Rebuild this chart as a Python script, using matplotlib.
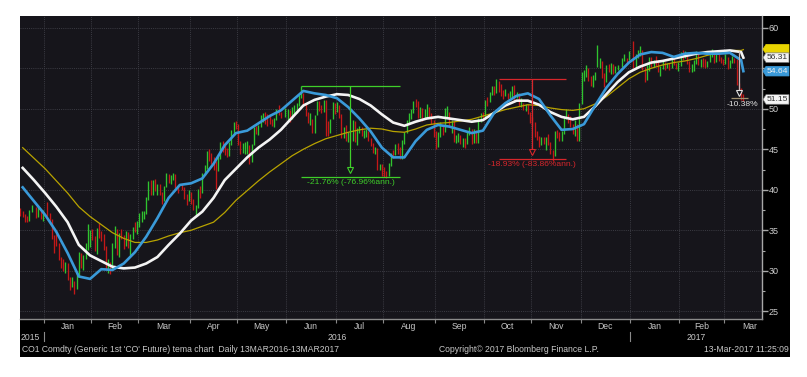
import numpy as np
import pandas as pd
import matplotlib
matplotlib.use("Agg")
import matplotlib.pyplot as plt
from matplotlib.patches import Rectangle, Polygon
from matplotlib.transforms import blended_transform_factory

# ---------------- data ----------------
holidays = ["2015-12-25", "2016-01-01", "2016-03-25", "2016-05-30", "2016-12-26", "2017-01-02"]

close = [
    37.06, 36.88, 36.35, 36.11, 37.36, 37.89, 36.62, 37.79, 36.46, 37.28,
    37.22, 36.42, 34.23, 33.75, 33.55, 31.55, 30.86, 30.31, 31.03, 28.94, 28.55, 28.76, 27.88, 29.25, 32.18, 30.50, 31.80, 33.10, 33.89, 34.74,
    34.24, 32.72, 35.04, 34.46, 34.06, 32.88, 30.32, 30.84, 30.06, 33.36, 33.39, 32.18, 34.50, 34.28, 33.01, 34.69, 33.27, 34.41, 35.29, 35.10, 35.97,
    36.81, 36.93, 37.07, 38.72, 40.84, 39.65, 41.07, 40.05, 40.39, 39.53, 38.74, 40.33, 41.54, 41.20, 41.54, 41.79, 40.47, 40.44, 40.27, 39.14, 38.32, 39.60,
    38.67, 37.69, 37.87, 39.84, 39.43, 41.94, 42.83, 44.69, 44.18, 43.84, 43.10, 42.91, 44.03, 45.61, 45.22, 45.11, 44.48, 45.74, 47.18, 48.14, 48.13,
    45.83, 44.97, 45.01, 45.01, 45.37, 43.63, 45.52, 47.59, 47.08, 47.83, 48.97, 49.28, 48.93, 48.81, 48.72, 48.35, 48.61, 49.74, 49.59, 49.32, 49.69,
    49.72, 49.17, 49.64, 49.69, 50.36, 51.44, 51.95, 50.54, 49.28, 48.49, 48.97, 47.19, 49.17, 50.65, 49.96, 49.88, 50.91, 48.41, 47.16, 48.58, 50.61, 49.68,
    50.35, 49.10, 46.60, 47.43, 46.40, 46.76, 46.25, 48.47, 46.26, 47.37, 47.61, 46.96, 47.08, 47.17, 46.20, 45.69, 44.72, 44.87, 42.70, 42.70, 42.46,
    42.14, 41.80, 43.10, 44.29, 44.27, 45.39, 44.98, 44.05, 46.04, 46.97, 48.35, 49.23, 49.85, 50.89, 50.88, 49.16, 49.96, 49.05, 49.67, 49.92, 49.26, 48.37, 47.04,
    45.45, 46.83, 47.63, 47.26, 49.98, 49.99, 48.01, 48.32, 46.10, 46.59, 46.59, 45.77, 45.95, 45.88, 46.83, 47.65, 45.89, 47.35, 45.97, 48.69, 49.24, 49.06,
    50.89, 50.87, 51.86, 52.51, 51.93, 53.14, 52.41, 52.03, 51.81, 51.95, 51.52, 51.68, 52.67, 51.38, 51.78, 50.52, 50.79, 49.98, 50.47, 49.71, 48.30,
    48.14, 46.67, 46.35, 45.58, 46.15, 46.04, 46.36, 45.84, 44.75, 44.43, 46.95, 46.63, 46.49, 46.86, 48.90, 49.12, 48.95, 48.00, 47.24, 48.24, 46.38, 50.47,
    53.94, 54.46, 54.94, 53.93, 53.00, 53.89, 54.33, 55.69, 55.72, 54.08, 53.02, 55.21, 54.92, 55.35, 54.46, 55.05, 55.16, 56.09, 56.22, 56.14, 56.82,
    55.47, 56.46, 56.89, 57.10, 54.94, 53.64, 55.10, 56.01, 55.45, 55.86, 55.47, 54.92, 55.16, 55.49, 55.23, 55.44, 55.08, 56.24, 55.52, 55.23, 55.70,
    56.80, 56.56, 56.81, 55.72, 55.05, 55.12, 55.63, 56.70, 55.59, 55.97, 55.75, 55.65, 55.81, 56.66, 56.66, 55.84, 56.58, 55.99, 55.93, 55.59,
    56.36, 55.08, 55.90, 56.01, 55.92, 53.11, 52.19, 51.37, 51.15,
]
high = [
    37.70, 37.35, 36.95, 36.75, 37.50, 38.15, 37.85, 38.00, 37.60, 37.50,
    38.50, 37.10, 36.40, 34.40, 34.55, 33.45, 31.70, 31.50, 31.10, 30.92, 29.20, 29.25, 28.80, 29.73, 32.35, 32.14, 32.00, 33.40, 35.82, 35.00,
    35.10, 34.35, 35.28, 35.85, 34.95, 34.57, 33.05, 31.40, 31.10, 33.46, 35.55, 35.20, 34.70, 35.10, 34.45, 34.89, 34.75, 34.60, 35.45, 36.08, 36.19,
    37.09, 37.35, 37.36, 39.12, 41.06, 41.15, 41.24, 41.38, 40.72, 40.68, 39.70, 40.50, 42.02, 41.90, 41.80, 42.03, 41.95, 40.63, 40.73, 40.32, 39.50, 40.00,
    39.70, 38.90, 38.10, 40.04, 40.44, 42.13, 43.03, 44.80, 44.99, 44.58, 44.10, 43.52, 44.39, 45.85, 46.03, 45.71, 45.14, 45.89, 47.38, 48.35, 48.50,
    48.07, 45.99, 45.73, 45.95, 46.08, 45.50, 45.70, 47.80, 47.93, 48.04, 49.21, 49.50, 49.60, 49.35, 49.05, 48.70, 48.82, 49.94, 50.51, 49.62, 50.10,
    49.99, 49.87, 50.19, 50.46, 50.66, 51.74, 52.86, 51.91, 50.62, 49.63, 49.45, 48.77, 49.29, 51.00, 50.90, 50.50, 51.03, 51.07, 48.44, 48.78, 50.79, 50.74,
    50.86, 50.46, 49.30, 47.70, 47.96, 47.11, 47.11, 48.61, 48.55, 47.59, 47.91, 47.78, 47.40, 47.45, 47.22, 46.39, 45.75, 45.28, 45.16, 43.14, 43.15,
    42.76, 42.37, 43.30, 44.57, 44.90, 45.65, 45.76, 45.32, 46.19, 47.15, 48.63, 49.42, 50.00, 51.01, 51.22, 50.98, 50.25, 50.10, 49.95, 50.53, 50.18, 49.45, 48.63,
    47.30, 47.08, 48.38, 47.94, 50.12, 50.35, 49.63, 48.64, 48.46, 46.74, 46.95, 46.81, 46.33, 46.40, 47.15, 47.80, 47.50, 47.50, 47.41, 48.90, 49.43, 49.62,
    51.06, 51.48, 52.11, 52.80, 52.84, 53.73, 53.45, 53.02, 52.27, 52.46, 52.00, 52.18, 52.85, 52.90, 52.13, 51.89, 51.28, 50.70, 50.56, 50.62, 49.58,
    48.98, 48.40, 47.20, 46.59, 46.53, 46.57, 46.53, 46.85, 45.90, 44.92, 47.26, 47.38, 47.13, 47.21, 49.16, 49.97, 49.34, 49.12, 48.10, 48.67, 48.15, 50.77,
    54.53, 54.73, 55.37, 55.08, 54.08, 54.15, 54.58, 57.89, 56.25, 55.89, 54.38, 55.37, 55.48, 55.61, 55.51, 55.34, 55.45, 56.23, 56.75, 56.26, 57.13,
    58.37, 56.78, 57.30, 57.77, 57.28, 55.18, 55.36, 56.42, 56.38, 56.00, 56.56, 55.98, 55.32, 55.92, 55.76, 55.60, 55.62, 56.45, 56.49, 55.67, 55.78,
    56.95, 57.26, 57.12, 56.86, 55.90, 55.52, 56.02, 57.07, 56.80, 56.10, 56.28, 56.17, 55.95, 56.74, 57.41, 56.87, 56.80, 56.84, 56.39, 56.10,
    56.79, 56.35, 56.02, 56.56, 56.29, 56.10, 53.17, 52.54, 51.78,
]
low = [
    36.80, 36.60, 36.04, 35.98, 36.20, 37.20, 36.50, 36.70, 36.35, 36.10,
    36.76, 36.10, 33.95, 32.16, 33.00, 31.30, 30.34, 29.96, 29.73, 28.82, 27.67, 27.96, 27.10, 27.80, 29.30, 30.30, 30.10, 31.40, 32.60, 32.95,
    33.75, 32.50, 32.08, 34.10, 33.70, 32.62, 30.20, 29.70, 29.60, 30.26, 32.80, 31.90, 31.65, 33.90, 32.70, 33.00, 32.80, 31.95, 33.90, 34.80, 34.60,
    35.36, 36.04, 36.38, 37.05, 38.77, 39.39, 39.37, 39.79, 39.35, 39.30, 38.25, 38.60, 40.30, 40.80, 40.76, 41.17, 40.20, 39.65, 39.98, 38.92, 38.16, 38.56,
    38.27, 37.49, 36.82, 37.79, 39.04, 39.55, 41.87, 42.60, 43.60, 43.20, 42.40, 40.10, 42.35, 43.82, 44.65, 44.31, 43.99, 44.22, 45.47, 46.81, 47.45,
    45.48, 44.40, 44.48, 44.45, 44.37, 43.13, 43.45, 45.49, 46.86, 46.82, 47.69, 48.42, 48.10, 47.87, 48.17, 47.85, 47.75, 48.63, 49.20, 48.80, 48.96,
    48.66, 48.35, 48.73, 49.34, 49.48, 50.35, 51.35, 50.30, 49.05, 48.20, 48.04, 46.95, 47.00, 49.28, 49.68, 49.44, 49.59, 46.68, 46.64, 47.00, 48.70, 49.40,
    49.59, 48.80, 46.38, 46.40, 46.08, 45.94, 45.95, 46.07, 45.95, 45.56, 46.95, 46.62, 46.45, 46.50, 45.96, 45.36, 44.55, 44.45, 42.38, 42.42, 41.70,
    41.60, 41.51, 41.75, 42.91, 43.96, 44.26, 44.43, 43.79, 43.83, 45.60, 46.96, 48.19, 48.75, 49.52, 50.25, 48.85, 48.80, 48.51, 48.73, 48.95, 48.90, 48.13, 46.57,
    45.05, 45.25, 46.55, 46.80, 47.11, 48.97, 47.76, 46.95, 45.95, 45.72, 45.91, 45.60, 45.30, 45.20, 45.70, 46.76, 45.60, 45.82, 45.73, 45.75, 48.39, 48.70,
    48.76, 50.31, 50.82, 51.67, 51.67, 51.89, 52.08, 51.58, 51.18, 51.56, 51.17, 51.38, 51.51, 51.11, 51.28, 50.28, 50.17, 49.81, 49.71, 49.39, 48.23,
    47.85, 46.53, 46.09, 45.34, 45.51, 45.65, 44.94, 45.57, 44.43, 43.55, 44.16, 46.40, 46.04, 46.02, 46.90, 48.70, 48.26, 47.79, 46.85, 46.64, 46.07, 46.01,
    50.53, 53.47, 53.95, 53.45, 52.76, 52.74, 53.49, 55.14, 55.06, 53.75, 52.65, 53.36, 54.53, 54.32, 54.26, 54.37, 54.74, 55.21, 55.90, 55.53, 56.00,
    55.09, 55.10, 56.25, 56.46, 54.73, 53.34, 53.55, 54.68, 55.12, 55.10, 55.22, 54.59, 54.05, 54.91, 54.83, 54.98, 54.74, 55.03, 55.37, 54.85, 54.71,
    55.31, 56.08, 56.21, 55.47, 54.59, 54.53, 54.69, 55.48, 55.45, 55.18, 55.13, 55.08, 55.13, 55.82, 56.33, 55.68, 55.78, 55.91, 55.61, 55.38,
    55.55, 54.89, 55.02, 55.63, 55.59, 52.94, 51.78, 51.12, 50.95,
]

# moving-average lines, sampled weekly (Fridays) plus the last day
ma_dates = list(pd.date_range("2015-12-18", "2017-03-10", freq="W-FRI")) + [pd.Timestamp("2017-03-13")]
ma_blue = [40.3, 38.6, 36.9, 34.8, 32.2, 29.3, 29.0, 30.2, 30.1, 30.9, 32.3, 34.2, 36.5, 39.0, 40.6, 40.8, 41.4,
           43.2, 45.5, 47.0, 47.3, 48.2, 49.1, 49.8, 51.0, 52.2, 51.9, 51.7, 51.3, 50.2, 48.8, 47.2, 45.2, 44.0,
           44.0, 46.0, 47.4, 48.0, 47.8, 47.4, 47.0, 47.3, 49.5, 50.7, 51.6, 51.9, 51.2, 49.2, 47.4, 47.5, 48.1,
           50.4, 52.6, 54.3, 55.7, 56.7, 57.0, 56.9, 56.4, 56.8, 56.9, 56.8, 56.8, 56.9, 56.0, 54.64]
ma_white = [42.7, 41.2, 39.6, 37.9, 36.0, 33.2, 31.9, 31.2, 30.5, 30.3, 30.4, 30.9, 31.7, 33.2, 34.6, 36.2, 37.3,
            39.0, 41.2, 42.6, 44.0, 45.2, 46.2, 47.4, 48.9, 50.4, 51.1, 51.5, 51.8, 51.7, 51.2, 50.4, 49.3, 48.3,
            47.9, 48.4, 48.8, 49.0, 48.8, 48.6, 48.4, 48.6, 49.5, 50.4, 51.0, 51.0, 50.5, 49.6, 49.0, 48.7, 49.0,
            50.3, 51.8, 53.3, 54.5, 55.2, 55.7, 55.9, 56.2, 56.5, 56.8, 57.0, 57.1, 57.2, 57.0, 56.31]
ma_yellow = [45.2, 43.9, 42.6, 41.1, 39.6, 37.9, 36.7, 35.7, 34.7, 34.0, 33.5, 33.5, 33.8, 34.3, 34.7, 35.0, 35.5,
             36.0, 37.2, 38.7, 39.9, 41.1, 42.2, 43.2, 44.2, 45.0, 45.7, 46.3, 46.7, 47.1, 47.4, 47.6, 47.5, 47.2,
             47.1, 47.5, 48.0, 48.2, 48.3, 48.5, 48.7, 49.1, 49.5, 49.9, 50.2, 50.5, 50.4, 50.1, 49.9, 49.8, 50.0,
             50.6, 51.5, 52.6, 53.7, 54.5, 55.0, 55.4, 55.7, 55.9, 56.2, 56.6, 56.9, 57.2, 57.2, 57.3]

y_ticks = [25, 30, 35, 40, 45, 50, 55, 60]
y_ticklabels = ["25", "30", "35", "40", "45", "50", "", "60"]   # "55" sits under the last-value tags
month_names = ["Jan", "Feb", "Mar", "Apr", "May", "Jun", "Jul", "Aug", "Sep", "Oct", "Nov", "Dec"]

# drawdown annotations: (start date, end date, top price, bottom price, label, colour)
drawdowns = [
    ("2016-06-09", "2016-08-10", 52.86, 41.60, "-21.76% (-76.96%ann.)", "#3fcf2a"),
    ("2016-10-11", "2016-11-22", 53.73, 43.80, "-18.93% (-83.86%ann.)", "#d8262b"),
]
# last-value tags: (value, text, fill colour, text colour)
last_tags = [(57.35, "", "#e8d400", "#000000"), (56.31, "56.31", "#f4f4f4", "#303030"),
             (54.64, "54.64", "#3a9ad9", "#f0f0f0"), (51.15, "51.15", "#f4f4f4", "#303030")]

# ---------------- calendar / x positions ----------------
cal = pd.bdate_range("2015-12-01", "2017-04-28")
origin = cal.searchsorted(pd.Timestamp("2016-01-01"))
trade_days = pd.bdate_range("2015-12-17", "2017-03-13")
trade_days = trade_days[~trade_days.isin(pd.to_datetime(holidays))]
assert len(trade_days) == len(close) == len(high) == len(low)


def pos(d):
    return int(cal.searchsorted(pd.Timestamp(d))) - origin


x = np.array([pos(d) for d in trade_days])
xm = np.array([pos(d) for d in ma_dates])

# ---------------- figure ----------------
W, H = 807, 377
AX_L, AX_R, AX_T, AX_B = 20, 762, 16, 319
fig = plt.figure(figsize=(W / 100, H / 100), dpi=100, facecolor="white")
fig.patches.append(Rectangle((20 / W, 1 - 357 / H), (790 - 20) / W, (357 - 16) / H,
                             transform=fig.transFigure, facecolor="#000000", edgecolor="none", zorder=0))
ax = fig.add_axes([AX_L / W, 1 - AX_B / H, (AX_R - AX_L) / W, (AX_B - AX_T) / H])
ax.set_facecolor("#16151b")
ax.set_zorder(1)

x_left, x_right = -11.2, 319.3
y_lo, y_hi = 24.05, 61.45
ax.set_xlim(x_left, x_right)
ax.set_ylim(y_lo, y_hi)

# grid
month_starts = pd.date_range("2016-01-01", "2017-03-01", freq="MS")
bounds = [pos(d) - 0.5 for d in month_starts]
for b in bounds:
    ax.axvline(b, color="#3c3c44", lw=0.7, ls=(0, (1, 1.2)), zorder=1)
for yv in y_ticks:
    ax.axhline(yv, color="#3c3c44", lw=0.7, ls=(0, (1, 1.2)), zorder=1)

# bars
cl = np.array(close)
up = np.r_[False, cl[1:] >= cl[:-1]]
cols = np.where(up, "#2fc42f", "#c41818")
ax.vlines(x, low, high, colors=cols, lw=0.95, zorder=2)

# lines
ax.plot(xm, ma_yellow, color="#b8a300", lw=0.9, zorder=3)
ax.plot(xm, ma_white, color="#f4f4f4", lw=1.9, zorder=4)
ax.plot(xm, ma_blue, color="#3a9ad9", lw=1.9, zorder=5)

# drawdown annotations
for d0, d1, top, bot, lab, c in drawdowns:
    a, b = pos(d0), pos(d1)
    mid = (a + b) / 2
    ax.hlines([top, bot], a, b, color=c, lw=0.9, zorder=6)
    ax.vlines(mid, bot + 0.9, top, color=c, lw=0.9, zorder=6)
    ax.plot([mid], [bot + 0.9], marker="v", ms=5, mfc="#16151b", mec=c, mew=0.8, zorder=7)
    ax.text(mid, bot - 0.3, lab, color=c, fontsize=6.1, ha="center", va="top",
            family="Liberation Sans", zorder=7)

# last drawdown (to the end of the chart)
xv = pos("2017-03-09")
ax.vlines(xv, 51.9, 57.1, color="#c8b8b8", lw=0.9, zorder=6)
ax.hlines(51.3, xv - 3.5, xv + 4, color="#a09070", lw=0.9, zorder=6)
ax.plot([xv], [51.9], marker="v", ms=5, mfc="#16151b", mec="#e0e0e0", mew=0.8, zorder=7)
ax.text(xv + 1.5, 51.0, "-10.38%", color="#e0e0e0", fontsize=6.1, ha="center", va="top",
        family="Liberation Sans", zorder=7)

# axes styling
for s in ["top", "left"]:
    ax.spines[s].set_visible(False)
ax.spines["right"].set_color("#a8a8a8")
ax.spines["bottom"].set_color("#8a8a8a")
ax.spines["right"].set_linewidth(1.0)
ax.spines["bottom"].set_linewidth(1.0)
ax.yaxis.tick_right()
ax.set_yticks(y_ticks)
ax.set_yticklabels(y_ticklabels)
ax.set_yticks(np.arange(27.5, 61, 5), minor=True)
ax.tick_params(axis="y", which="major", colors="#a8a8a8", labelcolor="#d0d0d0", length=4, width=1,
               labelsize=6.5, pad=1)
ax.tick_params(axis="y", which="minor", colors="#a8a8a8", length=2, width=0.8)
for t in ax.get_yticklabels():
    t.set_family("Liberation Sans")

ax.set_xticks(bounds)
ax.set_xticklabels([])
ax.tick_params(axis="x", which="major", colors="#8a8a8a", length=3, width=0.8)
centers = []
labels = []
for d in month_starts:
    nxt = d + pd.offsets.MonthBegin(1)
    c = (pos(d) - 0.5 + pos(nxt) - 0.5) / 2
    centers.append(c)
    labels.append(month_names[d.month - 1])
ax.set_xticks(centers, minor=True)
ax.set_xticklabels(labels, minor=True)
ax.tick_params(axis="x", which="minor", length=0, labelsize=6.2, labelcolor="#c8c8c8", pad=2)
for t in ax.get_xticklabels(minor=True):
    t.set_family("Liberation Sans")

# year labels
tr = blended_transform_factory(ax.transData, ax.transAxes)
y_year = -(337 - AX_B) / (AX_B - AX_T)
y16 = pos("2016-01-01") - 0.5
y17 = pos("2017-01-02") - 0.5
ax.text(x_left + 0.3, y_year, "2015", transform=tr, fontsize=6.2, color="#c8c8c8", ha="left",
        va="center", family="Liberation Sans")
ax.text((y16 + y17) / 2, y_year, "2016", transform=tr, fontsize=6.2, color="#c8c8c8", ha="center",
        va="center", family="Liberation Sans")
ax.text((y17 + x_right) / 2, y_year, "2017", transform=tr, fontsize=6.2, color="#c8c8c8", ha="center",
        va="center", family="Liberation Sans")
for yb in (y16, y17):
    ax.plot([yb, yb], [y_year - 0.014, y_year + 0.016], transform=tr, color="#8a8a8a", lw=0.8,
            clip_on=False)

# last value tags (pointed-left labels to the right of the axis)
trr = blended_transform_factory(ax.transAxes, ax.transData)
px_x = 1.0 / (AX_R - AX_L)
px_y = (y_hi - y_lo) / (AX_B - AX_T)
for val, txt, fc, tc in last_tags:
    hh = 4.8 * px_y
    pts = [(1 + 1 * px_x, val), (1 + 4 * px_x, val + hh), (1 + 27 * px_x, val + hh),
           (1 + 27 * px_x, val - hh), (1 + 4 * px_x, val - hh)]
    ax.add_patch(Polygon(pts, closed=True, transform=trr, fc=fc, ec="#777777" if fc == "#f4f4f4" else fc,
                         lw=0.5, clip_on=False, zorder=10))
    if txt:
        ax.text(1 + 15.5 * px_x, val, txt, transform=trr, fontsize=6.1, color=tc, ha="center",
                va="center", family="Liberation Sans", zorder=11, clip_on=False)

# footer
fy = 1 - 349 / H
fig.text(22 / W, fy, "CO1 Comdty (Generic 1st 'CO' Future) tema chart  Daily 13MAR2016-13MAR2017",
         fontsize=6.2, color="#c8c8c8", ha="left", va="center", family="Liberation Sans", zorder=5)
fig.text(519 / W, fy, "Copyright\u00a9 2017 Bloomberg Finance L.P.", fontsize=6.2, color="#c8c8c8",
         ha="center", va="center", family="Liberation Sans", zorder=5)
fig.text(789 / W, fy, "13-Mar-2017 11:25:09", fontsize=6.2, color="#c8c8c8", ha="right",
         va="center", family="Liberation Sans", zorder=5)

fig.savefig("out.png", dpi=100, facecolor="white")
